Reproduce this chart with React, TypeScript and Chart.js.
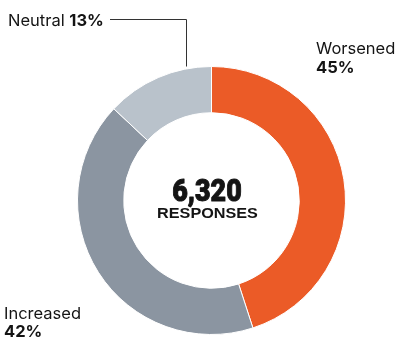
import React, { useEffect, useRef } from "react";
import { Chart, registerables } from "chart.js";

Chart.register(...registerables);

const categories = ["Worsened", "Increased", "Neutral"];
const shares = [45, 42, 13];
const percentLabels = ["45%", "42%", "13%"];
const colors = ["#EB5B27", "#8B95A1", "#B9C2CB"];
const totalResponses = "6,320";
const centerCaption = "RESPONSES";

const LABEL_FONT = "Inter, 'Liberation Sans', sans-serif";

const labelPlugin = {
  id: "donutLabels",
  afterDraw(chart: any) {
    const ctx: CanvasRenderingContext2D = chart.ctx;
    const meta = chart.getDatasetMeta(0);
    const arc: any = meta.data[0];
    const cx = arc.x;
    const cy = arc.y;
    const outer = arc.outerRadius;
    ctx.save();
    ctx.fillStyle = "#141414";
    ctx.strokeStyle = "#141414";
    ctx.textBaseline = "alphabetic";

    // centre
    ctx.textAlign = "center";
    ctx.save();
    ctx.translate(cx - 4.5, cy);
    ctx.scale(0.84, 1);
    ctx.font = "900 32px Roboto, sans-serif";
    ctx.lineWidth = 1;
    ctx.lineJoin = "round";
    ctx.fillText(totalResponses, 0, 0);
    ctx.strokeText(totalResponses, 0, 0);
    ctx.restore();
    ctx.save();
    ctx.translate(cx - 4, cy + 17);
    ctx.scale(1.08, 1);
    ctx.font = "bold 15px 'Liberation Sans', Arial, sans-serif";
    ctx.fillText(centerCaption, 0, 0);
    ctx.restore();

    // side labels
    ctx.textAlign = "left";
    const normal = "16.5px " + LABEL_FONT;
    const bold = "bold 16.5px " + LABEL_FONT;

    // Worsened
    ctx.font = normal;
    ctx.fillText(categories[0], 316, 54);
    ctx.font = bold;
    ctx.fillText(percentLabels[0], 316, 73);

    // Increased
    ctx.font = normal;
    ctx.fillText(categories[1], 4, 319);
    ctx.font = bold;
    ctx.fillText(percentLabels[1], 4, 337);

    // Neutral
    ctx.font = normal;
    const nText = categories[2] + " ";
    ctx.fillText(nText, 8, 25.5);
    const w = ctx.measureText(nText).width;
    ctx.font = bold;
    ctx.fillText(percentLabels[2], 8 + w, 25.5);

    // leader line
    ctx.strokeStyle = "#333";
    ctx.lineWidth = 1;
    ctx.beginPath();
    ctx.moveTo(110, 19.5);
    ctx.lineTo(186.5, 19.5);
    ctx.lineTo(186.5, cy - outer);
    ctx.stroke();
    ctx.restore();
  },
};

export default function App() {
  const ref = useRef<HTMLCanvasElement>(null);
  useEffect(() => {
    document.body.style.margin = "0";
    const chart = new Chart(ref.current!, {
      type: "doughnut",
      data: {
        labels: categories,
        datasets: [
          {
            data: shares,
            backgroundColor: colors,
            borderColor: "#ffffff",
            borderWidth: 1,
          },
        ],
      },
      options: {
        animation: false,
        responsive: false,
        cutout: "65.5%",
        layout: { padding: { top: 66, bottom: 8, left: 77, right: 52 } },
        plugins: { legend: { display: false }, tooltip: { enabled: false } },
      },
      plugins: [labelPlugin],
    });
    return () => chart.destroy();
  }, []);
  return (
    <div style={{ width: 398, height: 343, background: "#fff" }}>
      <canvas ref={ref} width={398} height={343} />
    </div>
  );
}
